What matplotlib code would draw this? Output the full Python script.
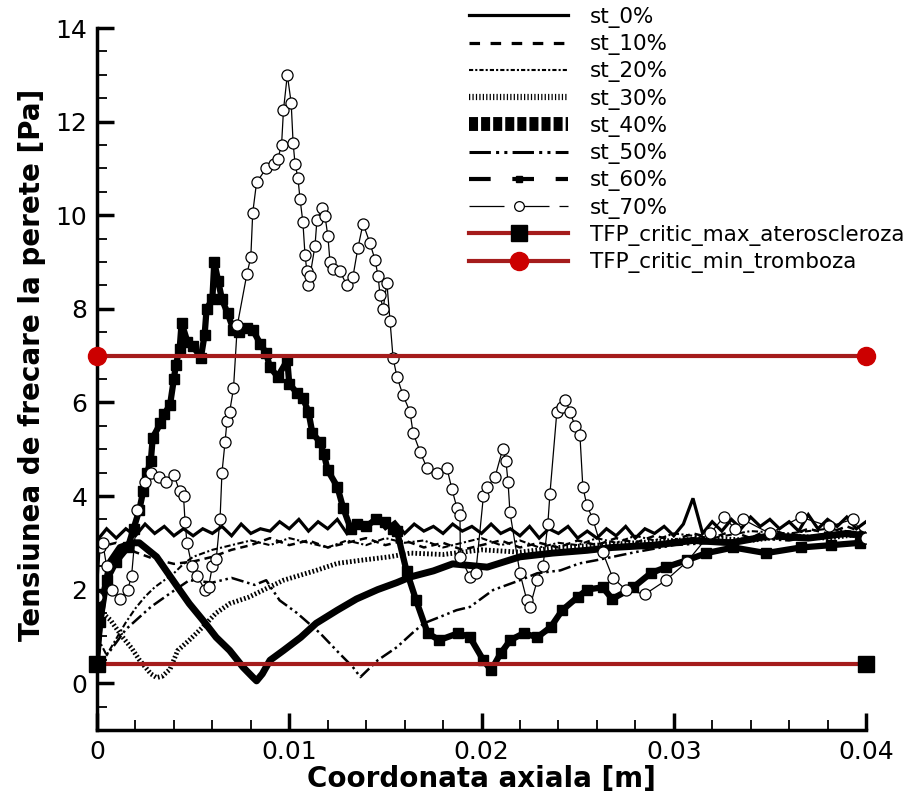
import matplotlib
matplotlib.use('Agg')
import matplotlib.pyplot as plt
from matplotlib.lines import Line2D
from matplotlib.ticker import MultipleLocator, FormatStrFormatter

plt.rcParams['font.family'] = ['DejaVu Sans']

# ---------------- data ----------------
st0_x = [0, 0.0005, 0.001, 0.0015, 0.002, 0.0025, 0.003, 0.0035, 0.004, 0.0045,
         0.005, 0.0055, 0.006, 0.0065, 0.007, 0.0075, 0.008, 0.0085, 0.009, 0.0095,
         0.010, 0.0105, 0.011, 0.0115, 0.012, 0.0125, 0.013, 0.0135, 0.014, 0.0145,
         0.015, 0.0155, 0.016, 0.0165, 0.017, 0.0175, 0.018, 0.0185, 0.019, 0.0195,
         0.020, 0.0205, 0.021, 0.0215, 0.022, 0.0225, 0.023, 0.0235, 0.024, 0.0245,
         0.025, 0.0255, 0.026, 0.0265, 0.027, 0.0275, 0.028, 0.0285, 0.029, 0.0295,
         0.030, 0.0305, 0.031, 0.0315, 0.032, 0.0325, 0.033, 0.0335, 0.034, 0.0345,
         0.035, 0.0355, 0.036, 0.0365, 0.037, 0.0375, 0.038, 0.0385, 0.039, 0.0395, 0.040]
st0_y = [3.05, 3.3, 3.1, 3.3, 3.15, 3.4, 3.2, 3.35, 3.15, 3.3,
         3.15, 3.3, 3.2, 3.35, 3.15, 3.4, 3.2, 3.3, 3.25, 3.45,
         3.3, 3.5, 3.25, 3.45, 3.3, 3.5, 3.2, 3.45, 3.35, 3.55,
         3.3, 3.45, 3.2, 3.4, 3.25, 3.35, 3.2, 3.4, 3.25, 3.35,
         3.2, 3.4, 3.2, 3.3, 3.15, 3.35, 3.1, 3.3, 3.2, 3.35,
         3.1, 3.25, 3.1, 3.3, 3.15, 3.35, 3.1, 3.3, 3.2, 3.35,
         3.15, 3.4, 3.95, 3.2, 3.45, 3.25, 3.5, 3.3, 3.55, 3.35,
         3.5, 3.3, 3.45, 3.25, 3.6, 3.3, 3.5, 3.35, 3.55, 3.3, 3.45]

st10_x = [0, 0.001, 0.002, 0.003, 0.004, 0.005, 0.006, 0.007, 0.008, 0.009,
          0.010, 0.011, 0.012, 0.013, 0.014, 0.015, 0.016, 0.017, 0.018, 0.019,
          0.020, 0.021, 0.022, 0.023, 0.024, 0.025, 0.026, 0.027, 0.028, 0.029,
          0.030, 0.031, 0.032, 0.033, 0.034, 0.035, 0.036, 0.037, 0.038, 0.039, 0.040]
st10_y = [2.9, 3.0, 2.8, 2.65, 2.55, 2.6, 2.7, 2.85, 2.95, 3.1,
          2.95, 3.05, 2.9, 3.0, 3.1, 2.95, 3.05, 2.9, 3.0, 2.85,
          2.95, 3.05, 2.9, 3.0, 2.9, 3.05, 2.95, 3.1, 3.0, 3.15,
          3.05, 3.2, 3.1, 3.25, 3.1, 3.3, 3.15, 3.3, 3.2, 3.35, 3.2]

st20_x = [0, 0.0005, 0.001, 0.0015, 0.002, 0.0025, 0.003, 0.0035, 0.004, 0.0045,
          0.005, 0.006, 0.007, 0.008, 0.009, 0.010, 0.011, 0.012, 0.013, 0.014,
          0.015, 0.016, 0.017, 0.018, 0.019, 0.020, 0.021, 0.022, 0.023, 0.024,
          0.025, 0.026, 0.027, 0.028, 0.029, 0.030, 0.032, 0.034, 0.036, 0.038, 0.040]
st20_y = [1.0, 0.6, 0.95, 1.3, 1.6, 1.85, 2.05, 2.2, 2.35, 2.55,
          2.7, 2.85, 2.95, 3.05, 2.95, 3.1, 3.0, 2.9, 3.05, 2.95,
          3.1, 3.0, 3.05, 2.9, 3.0, 3.1, 2.95, 3.05, 2.9, 3.0,
          2.95, 3.1, 3.0, 3.15, 3.05, 3.2, 3.1, 3.25, 3.2, 3.3, 3.2]

st30_x = [0, 0.0007, 0.0013, 0.0018, 0.0022, 0.0028, 0.0031, 0.0034, 0.0038, 0.0042,
          0.0048, 0.0055, 0.0062, 0.0069, 0.0079, 0.0097, 0.0114, 0.0125, 0.0138, 0.0152,
          0.0163, 0.018, 0.020, 0.022, 0.024, 0.026, 0.028, 0.030, 0.032, 0.034,
          0.036, 0.038, 0.040]
st30_y = [1.6, 1.35, 1.0, 0.75, 0.5, 0.2, 0.12, 0.15, 0.3, 0.7,
          0.92, 1.2, 1.5, 1.7, 1.84, 2.2, 2.41, 2.56, 2.63, 2.7,
          2.78, 2.75, 2.85, 2.8, 2.9, 2.95, 3.0, 3.05, 3.1, 3.05,
          3.15, 3.1, 3.2]

st40_x = [0, 0.0003, 0.0007, 0.0012, 0.0019, 0.0022, 0.0031, 0.0042, 0.0048, 0.0055,
          0.0062, 0.0069, 0.0076, 0.0081, 0.0083, 0.0086, 0.009, 0.0097, 0.0106, 0.0114,
          0.0125, 0.0135, 0.0146, 0.0156, 0.0163, 0.0175, 0.0185, 0.0203, 0.022, 0.0237,
          0.0255, 0.0268, 0.029, 0.031, 0.033, 0.035, 0.037, 0.039, 0.040]
st40_y = [0.8, 1.8, 2.6, 2.9, 3.0, 3.0, 2.7, 2.05, 1.7, 1.35,
          0.98, 0.7, 0.34, 0.13, 0.05, 0.2, 0.49, 0.7, 0.98, 1.28,
          1.56, 1.8, 2.0, 2.15, 2.27, 2.4, 2.55, 2.48, 2.7, 2.78,
          2.84, 2.9, 2.95, 3.05, 3.0, 3.15, 3.1, 3.2, 3.15]

st50_x = [0, 0.0003, 0.0007, 0.0015, 0.0028, 0.0038, 0.0048, 0.006, 0.007, 0.0082,
          0.0088, 0.0095, 0.0104, 0.0116, 0.0126, 0.0133, 0.0137, 0.0146, 0.0156, 0.0164,
          0.017, 0.0178, 0.0187, 0.0194, 0.0206, 0.022, 0.0229, 0.0241, 0.0251, 0.026,
          0.028, 0.030, 0.032, 0.034, 0.036, 0.038, 0.040]
st50_y = [0.3, 0.5, 0.7, 1.15, 1.63, 1.92, 2.2, 2.15, 2.25, 2.1,
          2.2, 1.77, 1.5, 1.07, 0.64, 0.35, 0.13, 0.49, 0.77, 1.07,
          1.28, 1.41, 1.56, 1.63, 1.99, 2.2, 2.35, 2.41, 2.56, 2.63,
          2.8, 2.95, 3.0, 3.1, 3.05, 3.2, 3.1]

st60_x = [0, 0.00016, 0.0005, 0.001, 0.0016, 0.0019, 0.0022, 0.0024, 0.0026, 0.0028,
          0.0029, 0.0033, 0.0035, 0.0038, 0.0040, 0.0041, 0.0043, 0.0044, 0.0047, 0.005,
          0.0054, 0.0056, 0.0057, 0.006, 0.0061, 0.0063, 0.0065, 0.0068, 0.0071, 0.0074,
          0.0078, 0.0081, 0.0085, 0.0088, 0.009, 0.0094, 0.0099, 0.010, 0.0104, 0.0107,
          0.011, 0.0112, 0.0116, 0.0118, 0.012, 0.0125, 0.0128, 0.0132, 0.0135, 0.014,
          0.0145, 0.015, 0.0154, 0.0156, 0.0161, 0.0166, 0.0172, 0.0178, 0.0188, 0.0194,
          0.0201, 0.0205, 0.021, 0.0215, 0.0222, 0.0229, 0.0236, 0.0242, 0.025, 0.0255,
          0.0263, 0.0268, 0.0279, 0.0288, 0.0296, 0.0307, 0.0317, 0.0331, 0.0348, 0.0366,
          0.0382, 0.0397, 0.040]
st60_y = [0.45, 1.3, 2.2, 2.6, 2.9, 3.3, 3.7, 4.1, 4.5, 4.75,
          5.25, 5.55, 5.75, 5.95, 6.5, 6.8, 7.15, 7.7, 7.3, 7.2,
          6.95, 7.45, 8.0, 8.2, 9.0, 8.6, 8.2, 7.9, 7.55, 7.5,
          7.6, 7.55, 7.25, 7.05, 6.75, 6.55, 6.9, 6.4, 6.2, 6.1,
          5.8, 5.35, 5.15, 4.9, 4.55, 4.2, 3.75, 3.3, 3.4, 3.35,
          3.5, 3.45, 3.3, 3.25, 2.4, 1.77, 1.07, 0.92, 1.07, 0.98,
          0.49, 0.28, 0.64, 0.92, 1.07, 0.98, 1.2, 1.56, 1.84, 2.0,
          2.05, 1.8, 2.05, 2.35, 2.48, 2.63, 2.78, 2.9, 2.78, 2.9,
          2.95, 3.0, 3.1]

st70_x = [0, 0.00016, 0.0003, 0.0005, 0.0008, 0.0012, 0.0016, 0.0018, 0.0021, 0.0025,
          0.0028, 0.0032, 0.0036, 0.004, 0.0043, 0.0045, 0.00458, 0.00468, 0.00494, 0.0052,
          0.0056, 0.0058, 0.006, 0.0062, 0.0064, 0.0065, 0.00666, 0.00676, 0.0069, 0.0071,
          0.0073, 0.0078, 0.008, 0.0081, 0.0083, 0.0088, 0.0092, 0.0094, 0.0096, 0.0097,
          0.0099, 0.0101, 0.0102, 0.0103, 0.01045, 0.01056, 0.01071, 0.01082, 0.01092, 0.01097,
          0.01108, 0.01134, 0.01144, 0.0117, 0.01186, 0.01201, 0.01212, 0.01227, 0.01264, 0.013,
          0.01331, 0.01357, 0.01384, 0.0142, 0.01446, 0.01462, 0.01472, 0.01488, 0.01508, 0.01524,
          0.0154, 0.0156, 0.01592, 0.01628, 0.01644, 0.0168, 0.01716, 0.01768, 0.0182, 0.01846,
          0.01872, 0.01888, 0.0189, 0.0194, 0.0197, 0.0201, 0.0203, 0.0207, 0.0211, 0.02127,
          0.02138, 0.02148, 0.022, 0.02236, 0.02252, 0.0229, 0.0232, 0.02345, 0.02356, 0.02392,
          0.0242, 0.02434, 0.0246, 0.02486, 0.02512, 0.02527, 0.02548, 0.0258, 0.0263, 0.02683,
          0.0275, 0.0285, 0.0296, 0.0307, 0.0319, 0.0326, 0.0332, 0.0336, 0.035, 0.0366,
          0.0381, 0.0393, 0.040]
st70_y = [1.85, 2.9, 3.0, 2.5, 2.0, 1.8, 2.0, 2.3, 3.7, 4.3,
          4.5, 4.4, 4.3, 4.45, 4.1, 4.0, 3.45, 3.0, 2.5, 2.3,
          2.0, 2.05, 2.5, 2.65, 3.5, 4.5, 5.15, 5.6, 5.8, 6.3,
          7.65, 8.75, 9.1, 10.05, 10.7, 11.0, 11.1, 11.2, 11.5, 12.25,
          13.0, 12.4, 11.55, 11.1, 10.8, 10.35, 9.85, 9.15, 8.8, 8.5,
          8.7, 9.35, 9.9, 10.15, 9.98, 9.55, 9.0, 8.85, 8.8, 8.5,
          8.68, 9.3, 9.82, 9.4, 9.05, 8.7, 8.3, 8.0, 8.55, 7.75,
          6.95, 6.55, 6.15, 5.8, 5.35, 4.95, 4.6, 4.5, 4.6, 4.15,
          3.75, 3.6, 2.7, 2.27, 2.35, 4.0, 4.2, 4.4, 5.0, 4.75,
          4.3, 3.65, 2.35, 1.77, 1.63, 2.2, 2.5, 3.4, 4.05, 5.8,
          5.9, 6.05, 5.8, 5.5, 5.3, 4.2, 3.8, 3.5, 2.8, 2.25,
          2.0, 1.9, 2.2, 2.6, 3.2, 3.55, 3.3, 3.5, 3.2, 3.55,
          3.35, 3.5, 3.1]

tfp_x = [0.0, 0.04]
tfp_max_ateroscleroza = [0.4, 0.4]
tfp_min_tromboza = [7.0, 7.0]

labels = ['st_0%', 'st_10%', 'st_20%', 'st_30%', 'st_40%', 'st_50%', 'st_60%', 'st_70%',
          'TFP_critic_max_ateroscleroza', 'TFP_critic_min_tromboza']

x_ticks = [0, 0.01, 0.02, 0.03, 0.04]
y_ticks = [0, 2, 4, 6, 8, 10, 12, 14]

# ---------------- figure ----------------
fig = plt.figure(figsize=(9.16, 7.94), dpi=100)
ax = fig.add_axes([97 / 916, 64 / 794, (866 - 97) / 916, (730 - 28) / 794])

RED = '#a51c1c'
K = 'black'

ax.plot(st10_x, st10_y, color=K, lw=1.8, dashes=(3, 2))
ax.plot(st20_x, st20_y, color=K, lw=1.5, dashes=(3, 1.2, 1, 1.2))
ax.plot(st30_x, st30_y, color=K, lw=3.5, dashes=(0.35, 0.45))
ax.plot(st50_x, st50_y, color=K, lw=1.8, dashes=(5, 1.5, 1, 1.5, 1, 1.5))
ax.plot(st0_x, st0_y, color=K, lw=2.3, solid_joinstyle='miter')
ax.plot(st40_x, st40_y, color=K, lw=5)
ax.plot(st60_x, st60_y, color=K, lw=4.5, marker='s', ms=7.5, mfc=K, mec=K)
ax.plot(st70_x, st70_y, color=K, lw=0.9, marker='o', ms=8, mfc='white', mec=K, mew=0.9)

ax.plot(tfp_x, tfp_max_ateroscleroza, color=RED, lw=3, marker='s', ms=12,
        mfc=K, mec=K, clip_on=False, zorder=5)
ax.plot(tfp_x, tfp_min_tromboza, color=RED, lw=3, marker='o', ms=13,
        mfc='#cc0000', mec='#cc0000', clip_on=False, zorder=5)

ax.set_xlim(0, 0.04)
ax.set_ylim(-1, 14)
ax.set_xticks(x_ticks)
ax.set_yticks(y_ticks)
ax.xaxis.set_major_formatter(FormatStrFormatter('%g'))
ax.xaxis.set_minor_locator(MultipleLocator(0.002))
ax.yaxis.set_minor_locator(MultipleLocator(0.5))

for s in ['top', 'right']:
    ax.spines[s].set_visible(False)
for s in ['left', 'bottom']:
    ax.spines[s].set_linewidth(2.5)

ax.tick_params(which='major', direction='in', length=12, width=2.5, labelsize=18, pad=7)
ax.tick_params(which='minor', direction='in', length=7, width=1.3)

ax.set_xlabel('Coordonata axiala [m]', fontsize=20, fontweight='bold', labelpad=1)
ax.set_ylabel('Tensiunea de frecare la perete [Pa]', fontsize=20, fontweight='bold')
ax.yaxis.set_label_coords(-0.066, 0.52)

# legend
handles = [
    Line2D([], [], color=K, lw=2.3),
    Line2D([], [], color=K, lw=2.3, dashes=(3.3, 3.3)),
    Line2D([], [], color=K, lw=1.5, dashes=(2, 1, 1, 1)),
    Line2D([], [], color=K, lw=4.5, dashes=(0.2, 0.35)),
    Line2D([], [], color=K, lw=10, dashes=(0.65, 0.22)),
    Line2D([], [], color=K, lw=2.2, dashes=(7, 1.7, 1, 1.7, 1, 1.7)),
    Line2D([], [], color=K, lw=3, dashes=(5.2, 5.2), marker='s', ms=5, mfc=K, mec=K),
    Line2D([], [], color=K, lw=0.9, dashes=(28, 8), marker='o', ms=7, mfc='white', mec=K, mew=0.9),
    Line2D([], [], color=RED, lw=3, marker='s', ms=12, mfc=K, mec=K),
    Line2D([], [], color=RED, lw=3, marker='o', ms=13, mfc='#cc0000', mec='#cc0000'),
]
leg = fig.legend(handles, labels, loc='upper left', bbox_to_anchor=(469 / 916, 1 - 7 / 794),
                 bbox_transform=fig.transFigure, frameon=False, fontsize=15.5,
                 handlelength=4.6, handletextpad=1.0, labelspacing=0.29, borderpad=0,
                 borderaxespad=0, numpoints=1)

fig.savefig('out.png', dpi=100)
